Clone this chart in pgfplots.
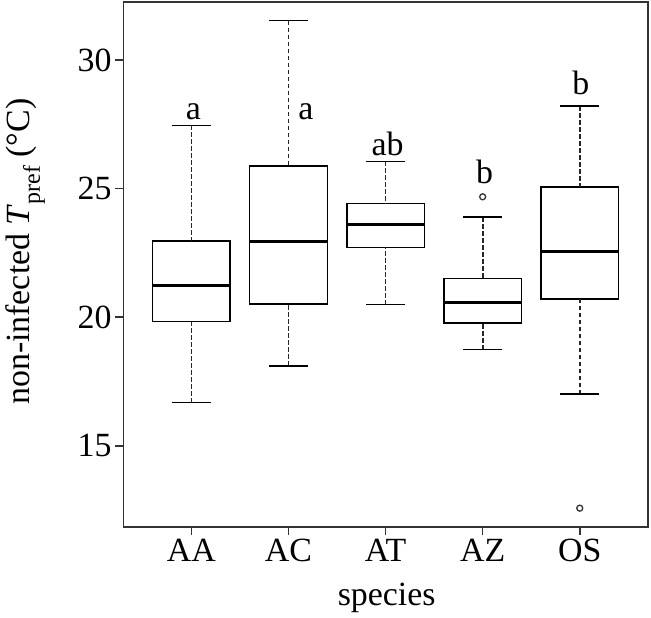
\documentclass[border=0pt]{standalone}
\usepackage{fontspec}
\setmainfont{Liberation Serif}
\usepackage{pgfplots}
\pgfplotsset{compat=1.18}

\newcommand{\bigfnt}{\fontsize{34}{40}\selectfont}

\begin{document}
\begin{tikzpicture}
\useasboundingbox (-123.5bp,-91.3bp) rectangle (527.5bp,526.7bp);
\begin{axis}[
  scale only axis,
  width=524.2bp, height=524.7bp,
  xmin=0.3, xmax=5.7,
  ymin=11.85, ymax=32.256,
  xtick={1,2,3,4,5},
  xticklabels={AA,AC,AT,AZ,OS},
  ytick={15,20,25,30},
  tick pos=left,
  tick align=outside,
  major tick length=8.5bp,
  axis line style={black!80, line width=1.6bp},
  tick style={black!80, line width=1.6bp},
  ticklabel style={font=\bigfnt},
  /pgf/number format/assume math mode=true,
  unbounded coords=jump,
  clip=false,
]
% boxes (lower to upper quartile)
\addplot[black, line width=1.6bp, line cap=rect, line join=miter, mark=none] coordinates {
  (0.6,19.83)(1.4,19.83)(1.4,22.97)(0.6,22.97)(0.6,19.83) (1,nan)
  (1.6,20.51)(2.4,20.51)(2.4,25.88)(1.6,25.88)(1.6,20.51) (2,nan)
  (2.6,22.71)(3.4,22.71)(3.4,24.42)(2.6,24.42)(2.6,22.71) (3,nan)
  (3.6,19.77)(4.4,19.77)(4.4,21.51)(3.6,21.51)(3.6,19.77) (4,nan)
  (4.6,20.70)(5.4,20.70)(5.4,25.05)(4.6,25.05)(4.6,20.70)
};
% medians
\addplot[black, line width=3.2bp, mark=none] coordinates {
  (0.6,21.22)(1.4,21.22) (1,nan)
  (1.6,22.93)(2.4,22.93) (2,nan)
  (2.6,23.59)(3.4,23.59) (3,nan)
  (3.6,20.57)(4.4,20.57) (4,nan)
  (4.6,22.54)(5.4,22.54)
};
% whiskers (dashed)
\addplot[black!85, line width=1.7bp, dash pattern=on 4.5bp off 2.5bp, mark=none] coordinates {
  (1,16.68)(1,19.83) (1,nan) (1,27.46)(1,22.97) (1,nan)
  (2,18.11)(2,20.51) (2,nan) (2,31.53)(2,25.88) (2,nan)
  (3,20.49)(3,22.71) (3,nan) (3,26.06)(3,24.42) (3,nan)
  (4,18.74)(4,19.77) (4,nan) (4,23.89)(4,21.51) (4,nan)
  (5,17.00)(5,20.70) (5,nan) (5,28.20)(5,25.05)
};
% whisker caps
\addplot[black, line width=1.6bp, mark=none] coordinates {
  (0.8,16.68)(1.2,16.68) (1,nan) (0.8,27.46)(1.2,27.46) (1,nan)
  (1.8,18.11)(2.2,18.11) (2,nan) (1.8,31.53)(2.2,31.53) (2,nan)
  (2.8,20.49)(3.2,20.49) (3,nan) (2.8,26.06)(3.2,26.06) (3,nan)
  (3.8,18.74)(4.2,18.74) (4,nan) (3.8,23.89)(4.2,23.89) (4,nan)
  (4.8,17.00)(5.2,17.00) (5,nan) (4.8,28.20)(5.2,28.20)
};
% outliers
\addplot[only marks, mark=o, mark size=3bp, mark options={line width=1.3bp, black!80}]
  coordinates {(4,24.68) (5,12.57)};
% group letters
\node[font=\bigfnt, anchor=base] at (axis cs:1.02,27.70) {a};
\node[font=\bigfnt, anchor=base] at (axis cs:2.18,27.70) {a};
\node[font=\bigfnt, anchor=base] at (axis cs:3.02,26.30) {ab};
\node[font=\bigfnt, anchor=base] at (axis cs:4.02,25.21) {b};
\node[font=\bigfnt, anchor=base] at (axis cs:5.01,28.64) {b};
\end{axis}
\node[font=\bigfnt, anchor=base] at (263.2bp,-78.3bp) {species};
\node[font=\bigfnt, anchor=base, rotate=90] at (-93.5bp,275bp)
  {non-infected \textit{T}\raisebox{-10bp}{\fontsize{24}{28}\selectfont pref} (°C)};
\end{tikzpicture}
\end{document}
